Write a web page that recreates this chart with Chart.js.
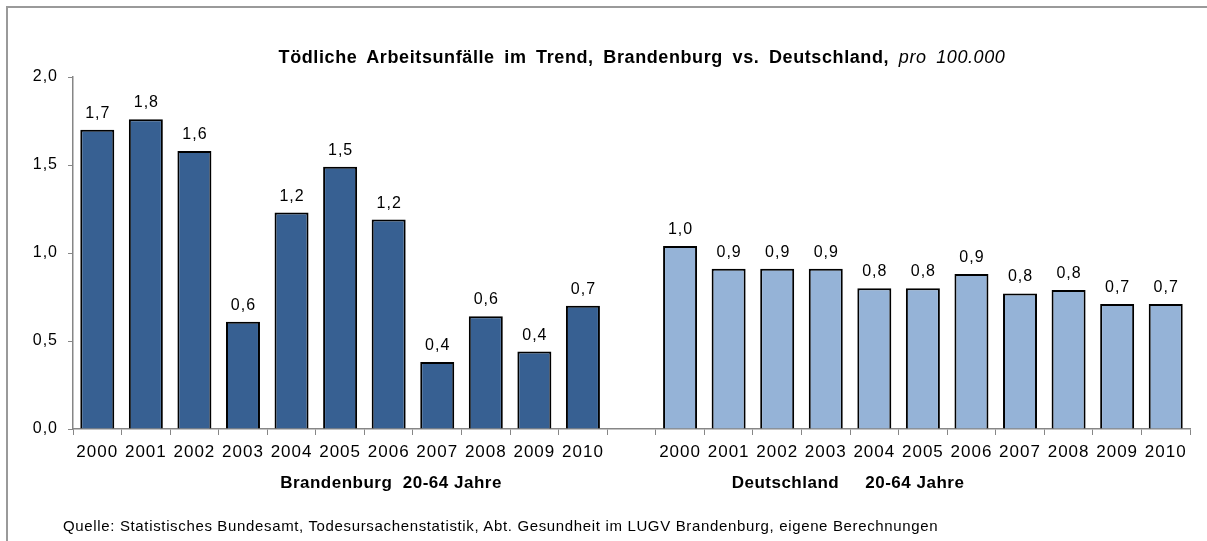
<!DOCTYPE html>
<html>
<head>
<meta charset="utf-8">
<script src="https://cdn.jsdelivr.net/npm/chart.js@4.4.1/dist/chart.umd.min.js"></script>
<style>
  html, body { margin:0; padding:0; background:#fff; }
  #wrap { position:relative; width:1207px; height:541px; overflow:hidden; background:#fff; }
  #frame { position:absolute; left:6px; top:6px; width:1300px; height:700px; border-left:2px solid #9a9a9a; border-top:2px solid #9a9a9a; }
  canvas { position:absolute; left:0; top:0; }
  .txt { position:absolute; white-space:pre; color:#000; font-family:"Liberation Sans", Arial, sans-serif; }
  #title { left:642px; top:57px; transform:translate(-50%,-50%); font-size:18px; font-weight:bold; letter-spacing:0.6px; word-spacing:4px; }
  #title i { font-weight:normal; }
  .grp { top:483px; transform:translate(-50%,-50%); font-size:17px; font-weight:bold; letter-spacing:0.5px; }
  #src { left:63px; top:525px; transform:translateY(-50%); font-size:15px; letter-spacing:0.65px; }
</style>
</head>
<body>
<div id="wrap">
  <div id="frame"></div>
  <canvas id="c" width="1207" height="541"></canvas>
  <div id="title" class="txt">Tödliche Arbeitsunfälle im Trend, Brandenburg vs. Deutschland, <i>pro 100.000</i></div>
  <div class="txt grp" style="left:391px">Brandenburg  20-64 Jahre</div>
  <div class="txt grp" style="left:848px">Deutschland     20-64 Jahre</div>
  <div id="src" class="txt">Quelle: Statistisches Bundesamt, Todesursachenstatistik, Abt. Gesundheit im LUGV Brandenburg, eigene Berechnungen</div>
</div>
<script>
const years = ['2000','2001','2002','2003','2004','2005','2006','2007','2008','2009','2010'];
const brandenburg = [1.70, 1.76, 1.58, 0.61, 1.23, 1.49, 1.19, 0.38, 0.64, 0.44, 0.70];
const deutschland = [1.04, 0.91, 0.91, 0.91, 0.80, 0.80, 0.88, 0.77, 0.79, 0.71, 0.71];
const yTicks = [0, 0.5, 1.0, 1.5, 2.0];

const labels = [...years, '', ...years];
const dataB = [...brandenburg, ...new Array(years.length + 1).fill(null)];
const dataD = [...new Array(years.length + 1).fill(null), ...deutschland];

const fmt = v => v.toFixed(1).replace('.', ',');
const FONT = '"Liberation Sans", Arial, sans-serif';
const SPACING = '1px';

const valueLabels = {
  id: 'valueLabels',
  beforeUpdate(chart) { chart.ctx.letterSpacing = SPACING; },
  beforeDraw(chart) { chart.ctx.letterSpacing = SPACING; },
  afterDatasetsDraw(chart) {
    const ctx = chart.ctx;
    ctx.save();
    ctx.letterSpacing = SPACING;
    ctx.font = '16px ' + FONT;
    ctx.fillStyle = '#000';
    ctx.textAlign = 'center';
    ctx.textBaseline = 'alphabetic';
    chart.data.datasets.forEach((ds, i) => {
      const meta = chart.getDatasetMeta(i);
      meta.data.forEach((bar, j) => {
        const v = ds.data[j];
        if (v === null || v === undefined) return;
        ctx.fillText(fmt(v), bar.x + 0.5, bar.y - 12);
      });
    });
    ctx.restore();
  }
};

new Chart(document.getElementById('c'), {
  type: 'bar',
  data: {
    labels: labels,
    datasets: [
      { label: 'Brandenburg 20-64 Jahre', data: dataB, backgroundColor: '#376092', borderColor: '#000', borderWidth: 2, borderSkipped: 'start', barPercentage: 0.70, categoryPercentage: 1.0, grouped: false },
      { label: 'Deutschland 20-64 Jahre', data: dataD, backgroundColor: '#95B3D7', borderColor: '#000', borderWidth: 2, borderSkipped: 'start', barPercentage: 0.70, categoryPercentage: 1.0, grouped: false }
    ]
  },
  options: {
    responsive: false,
    animation: false,
    layout: { padding: { left: 0, right: 17, top: 77, bottom: 0 } },
    plugins: { legend: { display: false }, tooltip: { enabled: false }, title: { display: false } },
    scales: {
      x: {
        offset: true,
        grid: { offset: true, drawOnChartArea: false, drawTicks: true, tickLength: 6, color: '#868686', lineWidth: 1 },
        border: { color: '#868686', width: 1.5 },
        ticks: { color: '#000', font: { family: FONT, size: 17 }, padding: 7, maxRotation: 0, autoSkip: false },
        afterFit(s) { s.height = 112; }
      },
      y: {
        min: 0, max: 2,
        afterBuildTicks(s) { s.ticks = yTicks.map(v => ({ value: v })); },
        grid: { drawOnChartArea: false, drawTicks: true, tickLength: 5, color: '#868686', lineWidth: 1 },
        border: { color: '#868686', width: 1.5 },
        ticks: { color: '#000', font: { family: FONT, size: 16 }, padding: 10, callback: v => fmt(v) },
        afterFit(s) { s.width = 73; }
      }
    }
  },
  plugins: [valueLabels]
});
</script>
</body>
</html>
